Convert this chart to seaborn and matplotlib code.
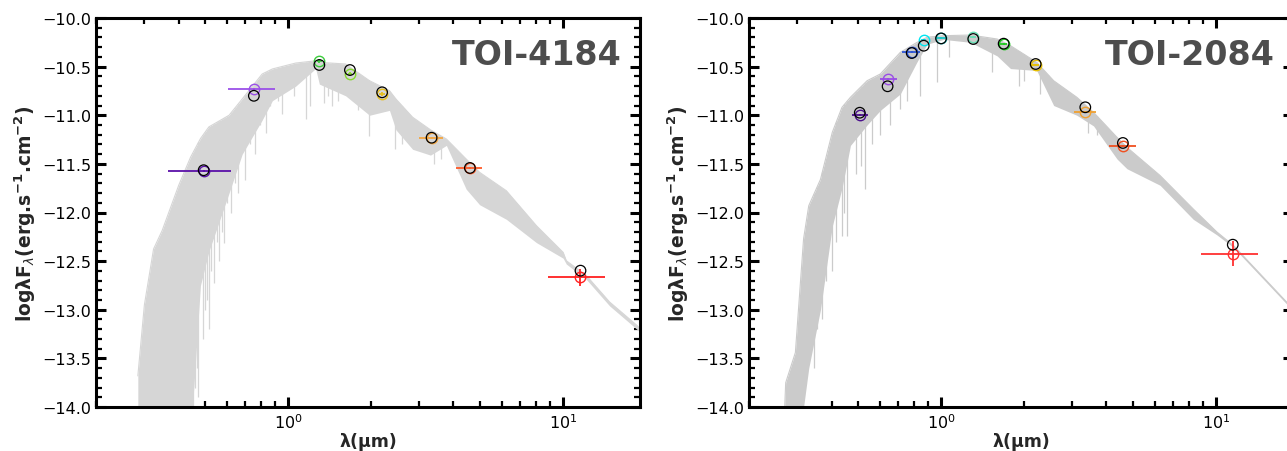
import numpy as np
import matplotlib
matplotlib.use("Agg")
import matplotlib.pyplot as plt
import seaborn as sns
from matplotlib.ticker import MultipleLocator, LogLocator, NullFormatter

# ---------------- data ----------------
# TOI-4184 model spectrum envelope
l_env_wl = [0.284, 0.30, 0.324, 0.348, 0.40, 0.442, 0.48, 0.515, 0.61, 0.681, 0.805, 0.877,
            1.067, 1.26, 1.30, 1.62, 1.98, 2.34, 2.47, 2.84, 3.30, 3.77, 4.45, 4.98, 6.23,
            8.02, 10.03, 10.3, 12.2, 14.8, 18.6, 19.2]
l_env_up = [-13.68, -12.95, -12.375, -12.187, -11.72, -11.43, -11.24, -11.12, -11.0, -10.833,
            -10.576, -10.524, -10.463, -10.44, -10.456, -10.473, -10.645, -10.747, -10.833,
            -11.02, -11.15, -11.244, -11.45, -11.587, -11.776, -12.136, -12.41, -12.496,
            -12.65, -12.92, -13.16, -13.2]
l_env_lo = [-14.5, -14.5, -14.5, -14.5, -14.5, -14.3, -12.75, -12.4, -11.8, -11.4, -11.05,
            -10.85, -10.70, -10.52, -10.68, -10.80, -11.0, -10.95, -11.15, -11.35, -11.41,
            -11.31, -11.76, -11.92, -12.07, -12.31, -12.47, -12.53, -12.69, -12.96, -13.2, -13.24]
l_spike_wl = [0.45, 0.458, 0.465, 0.472, 0.49, 0.50, 0.507, 0.515, 0.525, 0.537, 0.55, 0.56,
              0.575, 0.584, 0.60, 0.62, 0.64, 0.66, 0.70, 0.73, 0.76, 0.79, 0.829, 0.86, 0.92,
              0.953, 1.05, 1.16, 1.20, 1.35, 1.40, 1.45, 1.52, 1.80, 1.97, 2.45, 2.6, 3.40,
              3.60]
l_spike_lo = [-14.2, -13.8, -13.6, -13.9, -13.3, -13.0, -12.9, -13.2, -12.6, -12.72, -12.3,
              -12.5, -12.2, -12.31, -11.9, -12.0, -11.7, -11.8, -11.67, -11.3, -11.4, -11.1,
              -11.18, -10.9, -10.85, -10.99, -10.8, -11.04, -10.9, -10.87, -10.8, -10.9, -10.85,
              -10.95, -11.21, -11.35, -11.3, -11.5, -11.45]

# TOI-4184 photometry
l_wl = [0.493, 0.751, 1.30, 1.68, 2.20, 3.33, 4.59, 11.6]
l_lo = [0.365, 0.604, 1.27, 1.65, 2.15, 3.00, 4.07, 8.84]
l_hi = [0.620, 0.897, 1.33, 1.71, 2.25, 3.65, 5.09, 14.3]
l_obs = [-11.576, -10.733, -10.445, -10.579, -10.778, -11.231, -11.542, -12.667]
l_err = [0.01, 0.01, 0.02, 0.02, 0.02, 0.01, 0.01, 0.09]
l_mod = [-11.565, -10.800, -10.483, -10.535, -10.764, -11.231, -11.542, -12.598]
l_col = ['#5a10a8', '#9b50e8', '#3ccc3c', '#86d92e', '#e8c020', '#f4a640', '#ff5a28', '#ff2020']

# TOI-2084 model spectrum envelope
r_env_wl = [0.268, 0.272, 0.295, 0.316, 0.330, 0.364, 0.402, 0.436, 0.468, 0.538, 0.601,
            0.711, 0.818, 0.889, 1.02, 1.28, 1.60, 1.79, 2.23, 2.57, 3.12, 3.59, 4.37, 4.75,
            6.27, 8.28, 10.09, 11.6, 18.1, 19.3]
r_env_up = [-14.2, -13.75, -13.44, -12.27, -11.93, -11.66, -11.175, -10.918, -10.815, -10.645,
            -10.576, -10.353, -10.25, -10.198, -10.182, -10.175, -10.216, -10.285, -10.456,
            -10.645, -10.815, -10.97, -11.227, -11.33, -11.62, -11.964, -12.2, -12.34, -12.92,
            -12.99]
r_env_lo = [-14.5, -14.5, -14.5, -14.0, -13.6, -13.0, -12.14, -11.75, -11.31, -11.1, -10.95,
            -10.78, -10.45, -10.27, -10.22, -10.25, -10.39, -10.52, -10.54, -10.9, -11.0,
            -11.11, -11.45, -11.55, -11.72, -12.07, -12.23, -12.36, -12.94, -13.01]
r_spike_wl = [0.345, 0.354, 0.37, 0.38, 0.40, 0.415, 0.435, 0.445, 0.455, 0.49, 0.51, 0.53,
              0.56, 0.60, 0.65, 0.711, 0.75, 0.841, 0.967, 1.07, 1.53, 1.92, 2.0, 2.30, 2.45,
              3.44, 3.70]
r_spike_lo = [-13.6, -13.2, -13.1, -12.7, -12.6, -12.3, -12.24, -12.0, -12.24, -11.6, -11.52,
              -11.76, -11.3, -11.2, -11.1, -10.94, -10.85, -10.80, -10.66, -10.40, -10.56,
              -10.70, -10.65, -10.78, -10.75, -11.18, -11.2]

# TOI-2084 photometry
r_wl = [0.506, 0.639, 0.782, 0.865, 1.00, 1.31, 1.69, 2.21, 3.35, 4.59, 11.53]
r_lo = [0.475, 0.598, 0.723, 0.845, 0.962, 1.28, 1.64, 2.15, 3.04, 4.09, 8.82]
r_hi = [0.541, 0.692, 0.836, 0.885, 1.040, 1.34, 1.74, 2.27, 3.67, 5.12, 14.29]
r_obs = [-10.997, -10.627, -10.353, -10.226, -10.209, -10.192, -10.264, -10.487, -10.963,
         -11.319, -12.423]
r_err = [0.01, 0.01, 0.01, 0.01, 0.01, 0.01, 0.01, 0.01, 0.01, 0.01, 0.125]
r_mod = [-10.974, -10.702, -10.360, -10.285, -10.210, -10.216, -10.264, -10.473, -10.918,
         -11.285, -12.331]
r_col = ['#4b0f8c', '#9a4ce6', '#2e55d6', '#00e6f0', '#16c8c8', '#66e0b4', '#22cc22',
         '#e8c000', '#f0a030', '#f05020', '#ff3030']

names = ['TOI-4184', 'TOI-2084']

# ---------------- figure ----------------
sns.set_style('ticks')
plt.rcParams['font.family'] = ['DejaVu Sans']

W, H = 1287, 452
fig = plt.figure(figsize=(W / 100, H / 100), dpi=100)
ax_l = fig.add_axes([96 / W, 44 / H, 544 / W, 389 / H])
ax_r = fig.add_axes([749 / W, 44 / H, 544 / W, 389 / H])


def draw(ax, env_wl, env_up, env_lo, sp_wl, sp_lo, wl, lo, hi, obs, err, mod, cols, name, gray):
    env_wl = np.array(env_wl)
    env_up = np.array(env_up)
    ax.fill_between(env_wl, env_lo, env_up, color=gray, lw=0, zorder=1)
    sns.lineplot(x=env_wl, y=env_up, color=gray, lw=0.8, ax=ax, zorder=1)
    tops = np.interp(np.log10(sp_wl), np.log10(env_wl), env_up)
    ax.vlines(sp_wl, sp_lo, tops, color=gray, lw=0.9, zorder=1)

    wl = np.array(wl)
    xerr = np.vstack([wl - np.array(lo), np.array(hi) - wl])
    for i in range(len(wl)):
        ax.errorbar(wl[i], obs[i], xerr=xerr[:, i:i + 1], yerr=err[i], fmt='o', ms=7.5,
                    mfc='none', mec=cols[i], mew=1.0, ecolor=cols[i], elinewidth=1.3,
                    capsize=0, zorder=3)
    sns.scatterplot(x=wl, y=mod, marker='o', s=58, facecolor='none', edgecolor='black',
                    linewidth=0.9, ax=ax, zorder=4)

    ax.set_xscale('log')
    ax.set_xlim(0.2, 19.1)
    ax.set_ylim(-14.0, -10.0)
    ax.yaxis.set_major_locator(MultipleLocator(0.5))
    ax.yaxis.set_minor_locator(MultipleLocator(0.1))
    ax.xaxis.set_major_locator(LogLocator(base=10))
    ax.xaxis.set_minor_locator(LogLocator(base=10, subs=np.arange(2, 10)))
    ax.xaxis.set_minor_formatter(NullFormatter())
    ax.tick_params(which='both', direction='in', top=True, right=True, labelsize=11.5,
                   colors='black')
    ax.tick_params(which='major', length=7, width=2.2)
    ax.tick_params(which='minor', length=4, width=1.6)
    for s in ax.spines.values():
        s.set_linewidth(2.2)
        s.set_color('black')
    ax.set_xlabel(r'λ(μm)', fontsize=12.5, fontweight='bold', labelpad=1)
    ax.set_ylabel(r'logλF$_{\lambda}$(erg.s$^{\mathbf{-1}}$.cm$^{\mathbf{-2}}$)',
                  fontsize=13.5, fontweight='bold', labelpad=3)
    ax.text(0.967, 0.905, name, transform=ax.transAxes, ha='right', va='center',
            fontsize=24, fontweight='bold', color='#4d4d4d', zorder=5)


draw(ax_l, l_env_wl, l_env_up, l_env_lo, l_spike_wl, l_spike_lo, l_wl, l_lo, l_hi, l_obs,
     l_err, l_mod, l_col, names[0], '#d6d6d6')
draw(ax_r, r_env_wl, r_env_up, r_env_lo, r_spike_wl, r_spike_lo, r_wl, r_lo, r_hi, r_obs,
     r_err, r_mod, r_col, names[1], '#cbcbcb')

fig.savefig('out.png', dpi=100)
